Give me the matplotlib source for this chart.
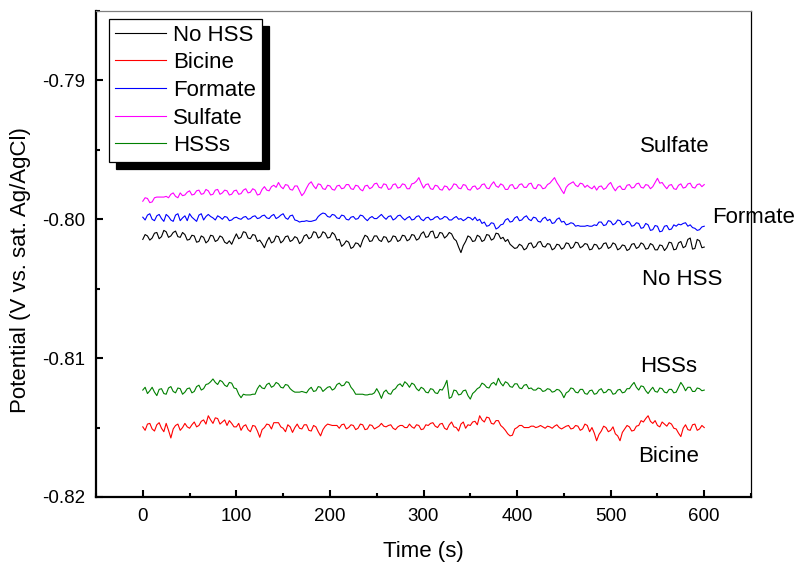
import matplotlib

matplotlib.use("Agg")
import matplotlib.pyplot as plt
import numpy as np
from matplotlib.ticker import FormatStrFormatter, MultipleLocator

plt.rcParams.update({
    "font.family": "Liberation Sans",
    "axes.unicode_minus": False,
})

# Open-circuit potential traces, one reading every 2.5 s (mV vs. sat. Ag/AgCl)
TIME_S = np.arange(0, 600.1, 2.5)

NO_HSS = [
    -801.45, -801.1, -801.2, -801.5, -801.35, -801.0, -800.95, -801.4, -801.25, -800.8,
    -800.9, -801.3, -801.2, -800.95, -800.85, -801.25, -801.3, -800.95, -801.1, -801.5,
    -801.45, -801.15, -801.2, -801.65, -801.6, -801.2, -801.3, -801.7, -801.55, -801.15,
    -801.2, -801.6, -801.5, -801.2, -801.3, -801.65, -801.75, -801.55, -801.8, -801.4,
    -801.05, -801.4, -801.3, -800.9, -800.95, -801.35, -801.4, -801.1, -801.15, -801.6,
    -801.5, -801.75, -802.05, -801.6, -801.3, -801.7, -801.6, -801.2, -801.25, -801.7,
    -801.55, -801.25, -801.2, -801.6, -801.5, -801.25, -801.35, -801.75, -801.6, -801.2,
    -801.1, -801.4, -801.3, -800.9, -800.95, -801.35, -801.25, -800.9, -801.0, -801.35,
    -801.3, -800.95, -801.1, -801.5, -801.45, -801.95, -801.8, -801.55, -801.65, -802.1,
    -802.0, -801.7, -801.75, -802.0, -801.5, -801.15, -801.25, -801.6, -801.55, -801.2,
    -801.2, -801.5, -801.6, -801.25, -801.3, -801.65, -801.55, -801.2, -801.25, -801.6,
    -801.5, -801.15, -801.2, -801.55, -801.45, -801.1, -801.15, -801.5, -801.4, -801.05,
    -800.9, -801.3, -801.25, -800.9, -800.85, -801.35, -801.3, -800.95, -801.0, -801.35,
    -801.2, -800.95, -801.05, -801.4, -801.55, -802.0, -802.4, -801.9, -801.6, -801.2,
    -801.3, -801.6, -801.55, -801.15, -801.25, -801.6, -801.5, -801.1, -801.15, -801.5,
    -801.4, -801.0, -801.05, -801.4, -801.3, -801.6, -801.45, -801.8, -801.95, -802.1,
    -802.05, -801.8, -801.9, -802.2, -802.1, -801.75, -801.7, -802.05, -801.95, -801.65,
    -801.6, -801.95, -802.0, -801.75, -801.8, -802.2, -802.1, -801.8, -801.85, -802.15,
    -802.05, -801.7, -801.75, -802.1, -802.0, -801.65, -801.7, -802.05, -801.95, -801.75,
    -801.8, -802.2, -802.15, -801.8, -801.85, -802.15, -802.05, -801.75, -801.7, -802.1,
    -802.0, -801.7, -801.8, -802.2, -802.1, -801.85, -801.9, -802.25, -802.15, -801.8,
    -801.75, -802.1, -802.0, -801.7, -801.8, -802.15, -802.1, -801.75, -801.85, -802.2,
    -802.2, -801.85, -801.9, -802.25, -802.05, -801.65, -801.7, -802.2, -802.15, -801.7,
    -801.6, -802.05, -801.95, -801.45, -801.35, -802.15, -802.1, -801.45, -801.55, -802.05,
    -802.0,
]

BICINE = [
    -814.95, -815.2, -814.75, -814.7, -815.1, -815.25, -814.8, -814.65, -815.05, -815.3,
    -814.7, -815.2, -815.75, -815.1, -814.85, -814.75, -815.2, -815.0, -814.7, -814.95,
    -815.05, -814.8, -814.6, -814.95, -814.85, -814.55, -814.45, -814.75, -814.15, -814.45,
    -814.7, -814.3, -814.35, -814.75, -814.6, -814.45, -814.85, -814.5, -814.7, -814.95,
    -814.95, -814.7, -815.2, -814.9, -814.8, -815.15, -815.3, -814.85, -814.9, -815.25,
    -815.7, -815.15, -815.0, -814.75, -814.8, -815.1, -814.65, -814.65, -814.65, -814.95,
    -815.05, -815.3, -814.8, -814.95, -815.35, -815.0, -814.75, -815.05, -815.1, -814.8,
    -814.8, -815.2, -815.25, -814.85, -814.95, -815.3, -815.6, -815.15, -814.9, -814.75,
    -814.8, -814.85, -814.85, -814.85, -815.05, -814.8, -814.75, -815.1, -815.0, -814.8,
    -814.85, -815.15, -815.05, -814.75, -814.8, -815.15, -815.1, -814.8, -814.85, -815.1,
    -815.0, -814.9, -814.7, -814.9, -814.95, -814.85, -814.8, -815.05, -815.15, -814.95,
    -814.85, -814.85, -815.0, -815.0, -814.75, -814.95, -815.05, -814.8, -814.85, -815.15,
    -815.1, -814.8, -814.85, -814.7, -814.65, -814.9, -815.0, -814.75, -814.7, -815.05,
    -815.15, -814.8, -814.6, -814.95, -815.0, -815.25, -814.75, -814.6, -815.05, -814.8,
    -814.85, -814.6, -814.55, -814.8, -814.15, -814.45, -814.6, -814.25, -814.3, -814.7,
    -814.75, -814.5, -814.5, -814.85, -815.0, -815.2, -815.45, -815.6, -815.55, -815.1,
    -815.0, -814.85, -814.85, -815.0, -815.0, -815.0, -814.9, -814.9, -815.0, -814.95,
    -814.85, -814.95, -815.05, -814.9, -814.95, -815.05, -814.9, -814.8, -815.0, -815.1,
    -815.0, -814.9, -814.85, -815.1, -815.05, -814.85, -814.9, -815.2, -815.1, -814.75,
    -814.85, -815.3, -815.0, -815.4, -815.95, -815.5, -815.25, -814.9, -815.0, -815.3,
    -815.2, -814.95, -815.45, -815.6, -815.95, -815.35, -815.1, -814.85, -814.95, -815.25,
    -815.2, -814.9, -814.85, -814.5, -814.6, -814.35, -814.15, -814.55, -814.7, -814.5,
    -814.85, -814.95, -814.6, -814.75, -814.9, -814.65, -814.75, -815.05, -815.1, -815.4,
    -815.65, -815.05, -814.8, -815.15, -815.2, -814.8, -814.75, -815.2, -815.1, -814.85,
    -815.0,
]

FORMATE = [
    -799.85, -800.05, -799.7, -799.6, -800.0, -800.1, -799.75, -799.65, -799.95, -800.15,
    -799.65, -799.8, -800.05, -800.15, -799.7, -799.6, -800.1, -799.9, -799.75, -800.1,
    -799.6, -799.85, -800.0, -800.15, -799.7, -799.6, -800.05, -799.8, -799.65, -799.8,
    -799.9, -800.05, -799.75, -799.85, -800.0, -799.8, -799.85, -800.1, -800.05, -799.9,
    -799.85, -799.95, -800.0, -799.85, -799.8, -800.0, -799.95, -799.8, -799.75, -799.95,
    -799.9, -799.75, -799.7, -799.9, -799.95, -799.75, -799.65, -799.95, -799.85, -799.7,
    -799.6, -799.9, -800.0, -799.75, -799.7, -800.05, -800.1, -800.2, -800.15, -800.15,
    -800.1, -800.15, -800.15, -800.1, -800.05, -799.8, -799.65, -799.55, -799.6, -799.8,
    -799.85, -799.65, -799.7, -799.9, -799.95, -799.7, -799.75, -800.0, -800.05, -799.85,
    -799.8, -800.0, -799.95, -799.7, -799.75, -799.95, -800.1, -799.9, -799.8, -799.95,
    -799.95, -799.8, -799.65, -799.85, -800.0, -799.8, -799.75, -800.05, -799.95, -799.75,
    -799.7, -799.9, -800.05, -799.9, -799.8, -800.05, -800.0, -799.8, -799.75, -800.0,
    -800.1, -799.9, -799.85, -800.05, -800.0, -799.85, -799.8, -800.0, -799.95, -799.8,
    -799.85, -800.05, -800.05, -799.9, -799.8, -800.0, -799.95, -800.1, -800.0, -799.85,
    -799.9, -800.05, -799.85, -800.1, -800.0, -800.3, -800.2, -800.5, -800.45, -800.25,
    -800.3, -800.7, -800.6, -800.4, -800.35, -800.05, -799.95, -800.2, -800.15, -799.9,
    -799.8, -800.1, -800.05, -799.85, -799.75, -800.0, -800.1, -799.85, -799.9, -800.15,
    -800.2, -799.95, -799.85, -800.1, -800.0, -800.3, -800.25, -800.0, -799.9, -800.2,
    -800.15, -800.4, -800.35, -800.25, -800.3, -800.5, -800.45, -800.5, -800.5, -800.5,
    -800.45, -800.5, -800.5, -800.4, -800.45, -800.2, -800.2, -800.45, -800.4, -800.1,
    -800.15, -800.4, -800.3, -800.05, -800.1, -800.4, -800.35, -800.15, -800.2, -800.5,
    -800.45, -800.25, -800.3, -800.65, -800.6, -800.3, -800.4, -800.8, -800.75, -800.45,
    -800.5, -800.9, -800.85, -800.5, -800.45, -800.75, -800.7, -800.4, -800.5, -800.35,
    -800.4, -800.3, -800.25, -800.5, -800.4, -800.6, -800.65, -800.8, -800.75, -800.55,
    -800.5,
]

SULFATE = [
    -798.7, -798.45, -798.5, -798.8, -798.75, -798.45, -798.4, -798.4, -798.4, -798.4,
    -798.35, -798.45, -798.2, -798.1, -798.35, -798.45, -798.1, -798.3, -798.25, -798.05,
    -797.95, -798.25, -798.2, -797.95, -797.9, -798.2, -798.15, -797.85, -797.95, -798.25,
    -798.2, -797.9, -797.85, -798.2, -798.1, -797.9, -797.95, -798.25, -798.2, -797.95,
    -797.9, -798.2, -798.15, -797.9, -797.8, -798.1, -798.05, -797.8, -797.9, -798.25,
    -798.2, -797.85, -797.65, -797.9, -797.95, -797.65, -797.55, -797.7, -797.35, -797.65,
    -797.8, -797.5, -797.55, -797.85, -797.9, -797.6, -797.6, -797.95, -798.3, -798.1,
    -797.75, -797.45, -797.3, -797.6, -797.8, -797.45, -797.5, -797.8, -797.85, -797.55,
    -797.6, -797.85, -797.9, -797.6, -797.55, -797.8, -797.75, -797.5, -797.5, -797.8,
    -797.85, -797.55, -797.6, -797.85, -797.95, -797.6, -797.55, -797.8, -797.7, -797.45,
    -797.4, -797.7, -797.75, -797.45, -797.5, -797.85, -797.8, -797.5, -797.45, -797.75,
    -797.7, -797.45, -797.5, -797.8, -797.8, -797.45, -797.4, -797.25, -797.0, -797.4,
    -797.75, -797.5, -797.45, -797.8, -797.85, -797.55, -797.6, -797.85, -797.9, -797.6,
    -797.65, -797.9, -797.75, -797.45, -797.5, -797.75, -797.8, -797.5, -797.55, -797.85,
    -797.9, -797.65, -797.6, -797.85, -797.75, -797.5, -797.45, -797.75, -797.8, -797.5,
    -797.3, -797.6, -797.7, -797.45, -797.55, -797.85, -797.85, -797.55, -797.5, -797.8,
    -797.75, -797.5, -797.45, -797.7, -797.7, -797.45, -797.4, -797.75, -797.8, -797.5,
    -797.55, -797.8, -797.75, -797.5, -797.4, -797.2, -797.0, -797.35, -797.6, -797.9,
    -798.15, -797.7, -797.5, -797.4, -797.3, -797.55, -797.65, -797.4, -797.45, -797.7,
    -797.55, -797.7, -797.8, -797.6, -797.9, -797.65, -797.6, -797.85, -797.75, -797.5,
    -797.35, -797.7, -797.95, -797.7, -797.6, -797.85, -797.85, -797.55, -797.5, -797.75,
    -797.7, -797.45, -797.4, -797.7, -797.75, -797.5, -797.55, -797.8, -797.65, -797.35,
    -797.05, -797.4, -797.35, -797.6, -797.8, -797.55, -797.5, -797.8, -797.85, -797.55,
    -797.45, -797.75, -797.7, -797.45, -797.4, -797.7, -797.75, -797.5, -797.45, -797.65,
    -797.5,
]

HSSS = [
    -812.3, -812.1, -812.55, -812.35, -812.1, -812.45, -812.7, -812.25, -812.2, -812.55,
    -812.6, -812.15, -812.05, -812.4, -812.5, -812.15, -812.2, -812.6, -812.45, -812.2,
    -812.15, -812.5, -812.4, -812.05, -811.95, -812.3, -812.2, -811.9, -811.85, -811.7,
    -811.5, -811.75, -811.9, -811.6, -811.7, -811.95, -812.05, -811.75, -811.8, -812.15,
    -812.2, -812.6, -812.85, -812.6, -812.65, -812.65, -812.65, -812.6, -812.6, -812.2,
    -811.95, -812.15, -812.2, -811.9, -811.8, -812.1, -812.0, -811.75, -811.85, -812.1,
    -812.15, -811.9, -811.95, -812.2, -812.35, -812.45, -812.45, -812.45, -812.4, -812.45,
    -812.5, -812.25, -812.1, -812.4, -812.35, -812.05, -812.1, -812.4, -812.25, -812.1,
    -812.05, -812.3, -812.2, -811.9, -811.8, -812.0, -811.95, -811.7, -811.75, -812.1,
    -812.3, -812.6, -812.6, -812.6, -812.6, -812.65, -812.65, -812.6, -812.6, -812.5,
    -812.2, -812.5, -812.9, -812.45, -812.3, -812.55, -812.6, -812.3, -812.2, -811.95,
    -811.85, -812.05, -811.7, -811.85, -812.1, -811.8, -811.9, -812.2, -812.35, -812.1,
    -812.2, -812.45, -812.5, -812.2, -812.25, -812.5, -812.55, -812.25, -812.3, -812.0,
    -811.6, -812.9, -812.8, -812.3, -812.35, -812.65, -812.6, -812.35, -812.3, -812.7,
    -812.95, -812.55, -812.4, -812.2, -812.1, -811.8, -811.9, -812.1, -812.15, -811.85,
    -811.75, -811.95, -811.45, -811.8, -812.0, -811.7, -811.8, -812.05, -812.1, -811.85,
    -811.85, -812.15, -812.2, -811.95, -811.9, -812.2, -812.15, -812.3, -812.3, -812.15,
    -812.2, -812.4, -812.35, -812.2, -812.25, -812.45, -812.4, -812.25, -812.3, -812.5,
    -812.85, -812.5, -812.4, -812.15, -812.2, -812.45, -812.5, -812.25, -812.25, -812.55,
    -812.6, -812.35, -812.3, -812.6, -812.55, -812.3, -812.2, -812.5, -812.45, -812.25,
    -812.3, -812.6, -812.55, -812.3, -812.25, -812.5, -812.45, -812.2, -812.2, -811.95,
    -811.75, -812.1, -812.3, -812.0, -812.05, -812.35, -812.55, -812.3, -812.1, -812.4,
    -812.45, -812.15, -812.2, -812.45, -812.5, -812.25, -812.25, -812.5, -812.45, -812.1,
    -811.75, -812.0, -812.35, -812.1, -812.1, -812.4, -812.4, -812.15, -812.2, -812.35,
    -812.3,
]

SERIES = [
    ("No HSS", NO_HSS, "black"),
    ("Bicine", BICINE, "red"),
    ("Formate", FORMATE, "blue"),
    ("Sulfate", SULFATE, "magenta"),
    ("HSSs", HSSS, "green"),
]

# curve tags drawn next to the right-hand end of each trace: (text, x, y)
TAGS = [
    ("Sulfate", 531, -0.79476),
    ("Formate", 608, -0.79986),
    ("No HSS", 533, -0.80431),
    ("HSSs", 531, -0.81062),
    ("Bicine", 529, -0.81709),
]

fig = plt.figure(figsize=(7.96, 5.62), dpi=100)
ax = fig.add_axes([0.1206, 0.1157, 0.8229, 0.8647])

for name, vals, color in SERIES:
    ax.plot(TIME_S, np.asarray(vals) / 1000.0, color=color, lw=0.8, label=name)

for text, x, y in TAGS:
    ax.text(x, y, text, fontsize=16, ha="left", va="center")

ax.set_xlim(-50, 650)
ax.set_ylim(-0.82, -0.785)
ax.xaxis.set_major_locator(MultipleLocator(100))
ax.xaxis.set_minor_locator(MultipleLocator(50))
ax.yaxis.set_major_locator(MultipleLocator(0.01))
ax.yaxis.set_minor_locator(MultipleLocator(0.005))
ax.yaxis.set_major_formatter(FormatStrFormatter("%.2f"))
ax.tick_params(which="both", direction="in", width=1.5, labelsize=13.5)
ax.tick_params(which="major", length=5)
ax.tick_params(which="minor", length=3)
ax.tick_params(axis="x", pad=8)
ax.tick_params(axis="y", pad=8)

ax.spines["left"].set_linewidth(1.6)
ax.spines["bottom"].set_linewidth(1.6)
ax.spines["right"].set_linewidth(0.9)
ax.spines["top"].set_linewidth(0.9)
ax.spines["top"].set_color("#808080")

ax.set_xlabel("Time (s)", fontsize=16, va="center")
ax.xaxis.set_label_coords(0.5, -0.113)
ax.set_ylabel("Potential (V vs. sat. Ag/AgCl)", fontsize=16, va="center")
ax.yaxis.set_label_coords(-0.116, 0.467)

leg = ax.legend(
    loc="upper left", bbox_to_anchor=(0.0198, 0.9835), borderaxespad=0,
    fontsize=16, frameon=True, fancybox=False, edgecolor="black",
    handlelength=2.3, handletextpad=0.35, labelspacing=0.3, borderpad=0.25,
    shadow={"ox": 5, "oy": -5, "color": "black", "alpha": 1},
)
leg.get_frame().set_linewidth(0.9)
for line in leg.get_lines():
    line.set_linewidth(0.8)

fig.savefig("out.png", dpi=100, facecolor="white")
